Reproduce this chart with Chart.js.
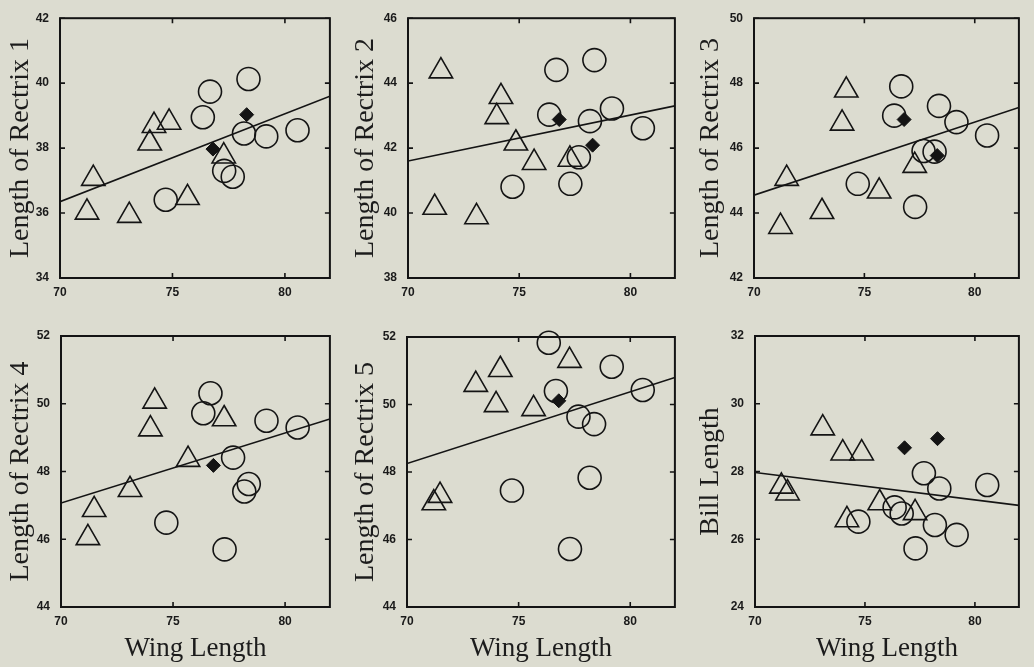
<!DOCTYPE html>
<html><head><meta charset="utf-8">
<script src="https://cdn.jsdelivr.net/npm/chart.js@4.4.1/dist/chart.umd.min.js"></script>
<style>
html,body{margin:0;padding:0;background:#dcdcd0;}
body{width:1034px;height:667px;position:relative;overflow:hidden;}
canvas{position:absolute;}
</style></head><body>
<script>
// ---- data ----
const triWing  = [71.2, 71.48, 73.08, 73.99, 74.18, 74.85, 75.67, 77.28];
const circWing = [74.7, 76.35, 76.67, 77.3, 77.68, 78.18, 78.38, 79.17, 80.56];
const diaWing  = [76.8, 78.3];
const lineWing = [70, 82];

const yTitles = ['Length of Rectrix 1','Length of Rectrix 2','Length of Rectrix 3',
                 'Length of Rectrix 4','Length of Rectrix 5','Bill Length'];
const xTitle = 'Wing Length';
const yMins = [34, 38, 42, 44, 44, 24];
const yMaxs = [42, 46, 50, 52, 52, 32];
const xMin = 70, xMax = 82, xStep = 5, yStep = 2;

const rectrix1Tri  = [36.02, 37.06, 35.92, 38.15, 38.69, 38.79, 36.47, 37.75];
const rectrix1Circ = [36.41, 38.95, 39.74, 37.30, 37.12, 38.45, 40.13, 38.36, 38.55];
const rectrix1Dia  = [37.97, 39.03];
const rectrix1Fit  = [36.35, 39.6];

const rectrix2Tri  = [40.17, 44.37, 39.88, 42.96, 43.58, 42.15, 41.55, 41.65];
const rectrix2Circ = [40.81, 43.03, 44.41, 40.90, 41.72, 42.83, 44.71, 43.22, 42.61];
const rectrix2Dia  = [42.88, 42.09];
const rectrix2Fit  = [41.6, 43.3];

const rectrix3Tri  = [43.58, 45.06, 44.04, 46.76, 47.78, null, 44.67, 45.46];
const rectrix3Circ = [44.90, 47.0, 47.90, 44.19, 45.91, 45.89, 47.30, 46.8, 46.39];
const rectrix3Dia  = [46.88, 45.77];
const rectrix3Fit  = [44.55, 47.25];

const rectrix4Tri  = [46.04, 46.87, 47.46, 49.25, 50.07, null, 48.35, 49.55];
const rectrix4Circ = [46.49, 49.72, 50.31, 45.70, 48.41, 47.41, 47.63, 49.5, 49.3];
const rectrix4Dia  = [48.18, null];
const rectrix4Fit  = [47.07, 49.55];

const rectrix5Tri  = [47.08, 47.30, 50.59, 49.99, 51.03, null, 49.87, 51.30];
const rectrix5Circ = [47.45, 51.83, 50.4, 45.72, 49.64, 47.83, 49.42, 51.12, 50.43];
const rectrix5Dia  = [50.11, null];
const rectrix5Fit  = [48.25, 50.8];

const billTri  = [27.56, 27.36, 29.28, 28.54, 26.57, 28.54, 27.07, 26.78];
const billCirc = [26.52, 26.94, 26.76, 25.73, 27.95, 26.42, 27.5, 26.13, 27.6];
const billDia  = [28.7, 28.97];
const billFit  = [27.97, 27.0];

const triSets  = [rectrix1Tri, rectrix2Tri, rectrix3Tri, rectrix4Tri, rectrix5Tri, billTri];
const circSets = [rectrix1Circ, rectrix2Circ, rectrix3Circ, rectrix4Circ, rectrix5Circ, billCirc];
const diaSets  = [rectrix1Dia, rectrix2Dia, rectrix3Dia, rectrix4Dia, rectrix5Dia, billDia];
const fitSets  = [rectrix1Fit, rectrix2Fit, rectrix3Fit, rectrix4Fit, rectrix5Fit, billFit];

// ---- layout (pixels) ----
const cols = [[0,345],[345,690],[690,1034]];
const rows = [[0,300],[300,667]];
const plots = [
  [60,330,8,278],[408,678,8,278],[754,1025,8,278],
  [61,332,336,607],[407,678,337,607],[755,1026,336,607]
];

const INK = '#141414';
const framePlugin = {
  id:'frame',
  afterDatasetsDraw(chart){
    const {ctx, chartArea:a, scales:{x,y}} = chart;
    ctx.save();
    ctx.strokeStyle = INK; ctx.lineWidth = 2;
    ctx.strokeRect(a.left, a.top, a.right-a.left, a.bottom-a.top);
    ctx.lineWidth = 1.6;
    ctx.beginPath();
    x.ticks.forEach(t=>{const p=x.getPixelForValue(t.value);
      ctx.moveTo(p,a.bottom); ctx.lineTo(p,a.bottom-5);
      ctx.moveTo(p,a.top); ctx.lineTo(p,a.top+5);});
    y.ticks.forEach(t=>{const p=y.getPixelForValue(t.value);
      ctx.moveTo(a.left,p); ctx.lineTo(a.left+5,p);
      ctx.moveTo(a.right,p); ctx.lineTo(a.right-5,p);});
    ctx.stroke(); ctx.restore();
  }
};

const pts = (xs, ys) => xs.map((x,i)=>({x:x, y:ys[i]})).filter(p=>p.y!==null);
const tickFont = {family:'"Liberation Sans", Arial, sans-serif', size:12, weight:'bold'};
const xTitleFont = {family:'"Liberation Serif", "Times New Roman", serif', size:27};
const yTitleFont = {family:'"Liberation Serif", "Times New Roman", serif', size:28};

for (let i=0;i<6;i++){
  const r = Math.floor(i/3), c = i%3;
  const [c0,c1] = cols[c], [r0,r1] = rows[r];
  const [pl,pr,pt,pb] = plots[i];
  const cv = document.createElement('canvas');
  cv.width = c1-c0; cv.height = r1-r0;
  cv.style.left = c0+'px'; cv.style.top = r0+'px';
  cv.style.width = (c1-c0)+'px'; cv.style.height = (r1-r0)+'px';
  document.body.appendChild(cv);
  const yW = pl-c0, xH = r1-pb;
  new Chart(cv, {
    type:'scatter',
    data:{datasets:[
      {type:'line', data:pts(lineWing, fitSets[i]), borderColor:INK, borderWidth:1.6, pointRadius:0, fill:false, order:3},
      {data:pts(triWing, triSets[i]), pointStyle:'triangle', pointRadius:13.5, borderColor:INK, borderWidth:1.6, backgroundColor:'rgba(0,0,0,0)', clip:false, order:2},
      {data:pts(circWing, circSets[i]), pointStyle:'circle', pointRadius:11.5, borderColor:INK, borderWidth:1.6, backgroundColor:'rgba(0,0,0,0)', clip:false, order:1},
      {data:pts(diaWing, diaSets[i]), pointStyle:'rectRot', pointRadius:7, borderColor:INK, borderWidth:1, backgroundColor:INK, clip:false, order:0}
    ]},
    options:{
      responsive:false, animation:false, devicePixelRatio:1,
      layout:{padding:{left:0, right:c1-pr, top:pt-r0, bottom:0}},
      plugins:{legend:{display:false}, tooltip:{enabled:false}},
      elements:{point:{hoverRadius:0}},
      scales:{
        x:{type:'linear', min:xMin, max:xMax,
           afterFit:s=>{s.height = xH;},
           grid:{display:false, drawTicks:false}, border:{display:false},
           ticks:{stepSize:xStep, includeBounds:false, padding:7, font:tickFont, color:'#1a1a1a', maxRotation:0},
           title:{display: r===1, text:xTitle, font:xTitleFont, color:'#1c1c1c', padding:{top:0,bottom:2}}},
        y:{type:'linear', min:yMins[i], max:yMaxs[i],
           afterFit:s=>{s.width = yW;},
           grid:{display:false, drawTicks:false}, border:{display:false},
           ticks:{stepSize:yStep, padding:11, font:tickFont, color:'#1a1a1a'},
           title:{display:true, text:yTitles[i], font:yTitleFont, color:'#1c1c1c', padding:{top:4,bottom:0}}}
      }
    },
    plugins:[framePlugin]
  });
}
</script>
</body></html>
